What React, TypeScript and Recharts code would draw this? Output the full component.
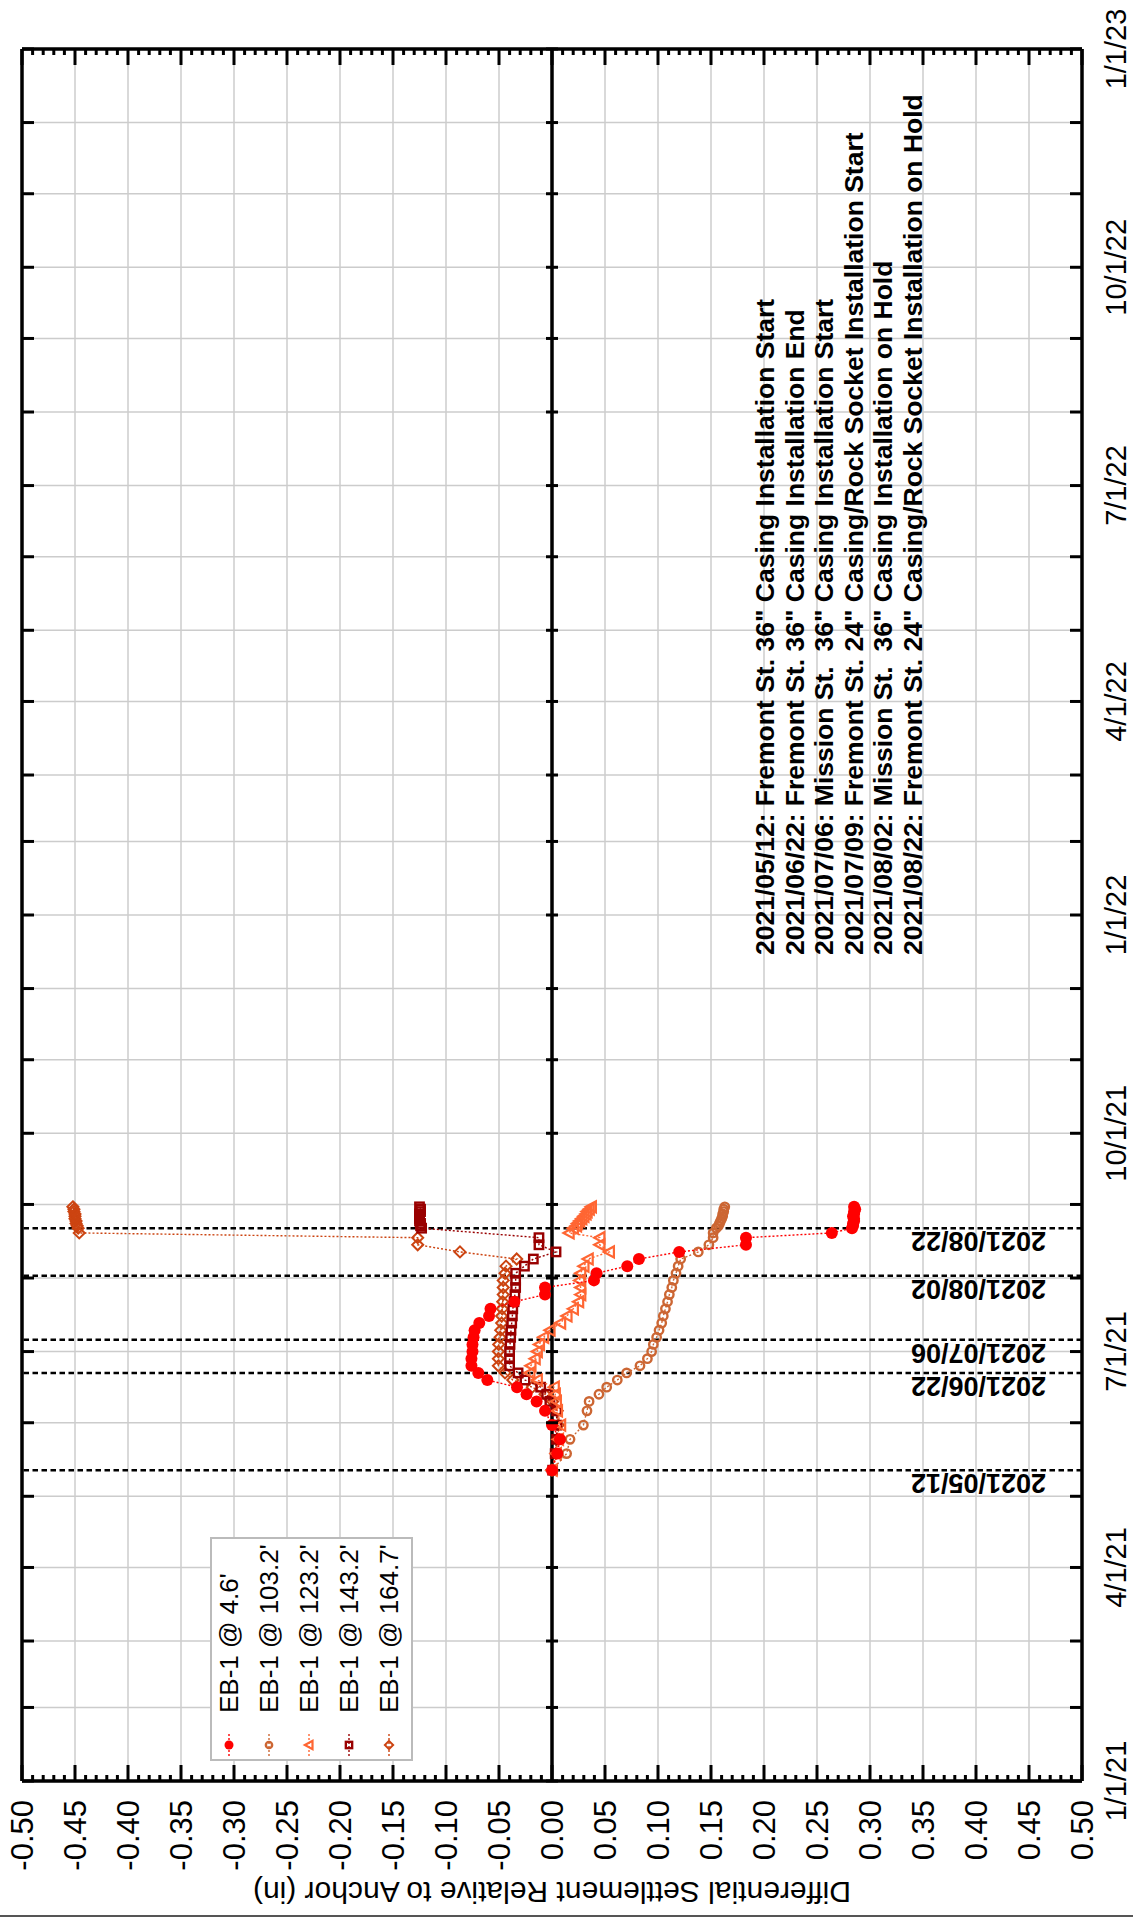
import React from "react";
import { ScatterChart, Scatter, XAxis, YAxis, CartesianGrid, ReferenceLine } from "recharts";

// survey dates shared by all five extensometer anchors
const surveyDates = [
  "2021-05-12", "2021-05-19", "2021-05-25", "2021-05-31", "2021-06-06",
  "2021-06-10", "2021-06-13", "2021-06-16", "2021-06-19", "2021-06-22",
  "2021-06-25", "2021-06-28", "2021-07-01", "2021-07-04", "2021-07-07",
  "2021-07-10", "2021-07-13", "2021-07-16", "2021-07-19", "2021-07-22",
  "2021-07-25", "2021-07-28", "2021-07-31", "2021-08-03", "2021-08-06",
  "2021-08-09", "2021-08-12", "2021-08-15", "2021-08-18", "2021-08-20",
  "2021-08-22", "2021-08-23", "2021-08-24", "2021-08-25", "2021-08-26",
  "2021-08-27", "2021-08-28", "2021-08-29", "2021-08-30", "2021-08-31",
];

const eb1At4_6 = [
  0.0, 0.005, 0.0075, 0.0, -0.0066, -0.0145, -0.024, -0.033, -0.061, -0.0695,
  -0.076, -0.076, -0.075, -0.075, -0.074, -0.073, -0.0686, -0.0594, -0.058, -0.0355,
  -0.0066, -0.0066, 0.0396, 0.042, 0.071, 0.082, 0.12, 0.183, 0.183, 0.264,
  0.283, 0.284, 0.284, 0.285, 0.285, 0.284, 0.285, 0.285, 0.286, 0.285,
];

const eb1At103_2 = [
  0.0, 0.0138, 0.017, 0.0296, 0.033, 0.035, 0.0443, 0.0516, 0.0616, 0.0704,
  0.083, 0.09, 0.094, 0.0956, 0.0987, 0.101, 0.1035, 0.105, 0.107, 0.109,
  0.1107, 0.113, 0.1145, 0.117, 0.119, 0.1214, 0.138, 0.148, 0.152, 0.152,
  0.155, 0.157, 0.158, 0.159, 0.16, 0.161, 0.161, 0.162, 0.162, 0.163,
];

const eb1At123_2 = [
  0.0, 0.004, 0.006, 0.008, 0.005, 0.004, 0.003, 0.002, -0.014, -0.021,
  -0.02, -0.016, -0.014, -0.012, -0.008, -0.002, 0.008, 0.014, 0.02, 0.025,
  0.027, 0.027, 0.026, 0.027, 0.03, 0.034, 0.054, 0.045, 0.045, 0.016,
  0.02, 0.023, 0.024, 0.026, 0.028, 0.03, 0.032, 0.033, 0.035, 0.037,
];

const eb1At143_2 = [
  0.0006, 0.003, 0.0044, 0.0044, 0.0044, -0.002, -0.005, -0.0107, -0.0255, -0.032,
  -0.04, -0.04, -0.04, -0.0396, -0.039, -0.0387, -0.038, -0.0374, -0.037, -0.0358,
  -0.035, -0.0343, -0.0343, -0.0343, -0.026, -0.0176, 0.0038, -0.0123, -0.0123, null,
  -0.123, -0.124, -0.124, -0.125, -0.125, -0.125, -0.125, -0.124, -0.124, -0.125,
];

const eb1At164_7 = [
  0.0, 0.0035, 0.005, 0.006, 0.005, 0.0006, -0.0066, -0.0186, -0.037, -0.0443,
  -0.0506, -0.0506, -0.0506, -0.0503, -0.049, -0.0484, -0.0475, -0.0475, -0.0469, -0.0465,
  -0.046, -0.046, -0.046, -0.0443, -0.0434, -0.0333, -0.0868, -0.1267, -0.1267, -0.446,
  -0.447, -0.448, -0.449, -0.449, -0.45, -0.45, -0.45, -0.451, -0.451, -0.452,
];

const settlementTicks = [
  -0.5, -0.45, -0.4, -0.35, -0.3, -0.25, -0.2, -0.15, -0.1, -0.05, 0,
  0.05, 0.1, 0.15, 0.2, 0.25, 0.3, 0.35, 0.4, 0.45, 0.5,
];
const dateTickLabels = ["1/1/21", "4/1/21", "7/1/21", "10/1/21", "1/1/22", "4/1/22", "7/1/22", "10/1/22", "1/1/23"];

const eventDates = ["2021-05-12", "2021-06-22", "2021-07-06", "2021-08-02", "2021-08-22"];
const eventNotes = [
  '2021/05/12: Fremont St. 36" Casing Installation Start',
  '2021/06/22: Fremont St. 36" Casing Installation End',
  '2021/07/06: Mission St.  36" Casing Installation Start',
  '2021/07/09: Fremont St. 24" Casing/Rock Socket Installation Start',
  '2021/08/02: Mission St.  36" Casing Installation on Hold',
  '2021/08/22: Fremont St. 24" Casing/Rock Socket Installation on Hold',
];

const FONT = "'Liberation Sans', Arial, sans-serif";
const W = 1133;
const H = 1923;
const PLOT_LEFT = 22;
const PLOT_TOP = 49;
const PLOT_RIGHT = 1082;
const PLOT_BOTTOM = 1781;
const PLOT_W = PLOT_RIGHT - PLOT_LEFT;
const PLOT_H = PLOT_BOTTOM - PLOT_TOP;
const X_AXIS_H = 100;
const Y_AXIS_W = 40;

const ORIGIN = Date.UTC(2021, 0, 1);
const toDay = (iso: string) => (Date.parse(iso) - ORIGIN) / 86400000;

const monthTicks = Array.from({ length: 25 }, (_, k) => (Date.UTC(2021, k, 1) - ORIGIN) / 86400000);
const minorSettlementTicks = Array.from({ length: 101 }, (_, i) => (i - 50) / 100);

type Kind = "dot" | "circle" | "triangle" | "square" | "diamond";

const series: { name: string; values: (number | null)[]; color: string; kind: Kind }[] = [
  { name: "EB-1 @ 4.6'", values: eb1At4_6, color: "#ff0000", kind: "dot" },
  { name: "EB-1 @ 103.2'", values: eb1At103_2, color: "#cc6633", kind: "circle" },
  { name: "EB-1 @ 123.2'", values: eb1At123_2, color: "#ff6633", kind: "triangle" },
  { name: "EB-1 @ 143.2'", values: eb1At143_2, color: "#990000", kind: "square" },
  { name: "EB-1 @ 164.7'", values: eb1At164_7, color: "#cc4411", kind: "diamond" },
];

const Marker = ({ kind, cx, cy, color, k = 1 }: { kind: Kind; cx: number; cy: number; color: string; k?: number }) => {
  if (kind === "dot") return <circle cx={cx} cy={cy} r={6 * k} fill={color} />;
  if (kind === "circle") return <circle cx={cx} cy={cy} r={4.2 * k} fill="none" stroke={color} strokeWidth={2.4} />;
  if (kind === "square") {
    const h = 4.2 * k;
    return <rect x={cx - h} y={cy - h} width={2 * h} height={2 * h} fill="none" stroke={color} strokeWidth={2.4} />;
  }
  if (kind === "triangle") {
    const r = 5.5 * k;
    return (
      <polygon
        points={`${cx - r},${cy} ${cx + r * 0.85},${cy - r} ${cx + r * 0.85},${cy + r}`}
        fill="none"
        stroke={color}
        strokeWidth={2.2}
      />
    );
  }
  const r = 5.5 * k;
  return (
    <polygon
      points={`${cx},${cy - r} ${cx + r},${cy} ${cx},${cy + r} ${cx - r},${cy}`}
      fill="none"
      stroke={color}
      strokeWidth={2}
    />
  );
};

const XTick = (props: any) => {
  const { x, y, payload } = props;
  const v = payload.value as number;
  const major = Math.round(v * 100) % 5 === 0;
  const len = major ? 16 : 6;
  const top = y - PLOT_H;
  return (
    <g>
      <line x1={x} y1={y} x2={x} y2={y - len} stroke="#000" strokeWidth={3} />
      <line x1={x} y1={top} x2={x} y2={top + len} stroke="#000" strokeWidth={3} />
      {major && settlementTicks.some((t) => Math.abs(t - v) < 1e-9) && (
        <text
          transform={`translate(${x + 11},${y + 19}) rotate(-90)`}
          textAnchor="end"
          fontSize={31}
          fontFamily={FONT}
          fill="#000"
        >
          {v.toFixed(2)}
        </text>
      )}
    </g>
  );
};

const YTick = (props: any) => {
  const { x, y, payload } = props;
  const k = monthTicks.indexOf(payload.value);
  const left = x - PLOT_W;
  const mid = x - PLOT_W / 2;
  const label = k % 3 === 0 ? dateTickLabels[k / 3] : null;
  return (
    <g>
      <line x1={left} y1={y} x2={left + 12} y2={y} stroke="#000" strokeWidth={3} />
      <line x1={x - 12} y1={y} x2={x} y2={y} stroke="#000" strokeWidth={3} />
      <line x1={mid - 6} y1={y} x2={mid + 6} y2={y} stroke="#000" strokeWidth={3} />
      {label && (
        <text
          transform={`translate(${x + 44},${y}) rotate(-90)`}
          textAnchor="middle"
          fontSize={29}
          fontFamily={FONT}
          fill="#000"
        >
          {label}
        </text>
      )}
    </g>
  );
};

const EventLabel = (props: any) => {
  const vb = props.viewBox || {};
  return (
    <text
      transform={`translate(${vb.x + vb.width - 36},${vb.y + 4}) rotate(180)`}
      textAnchor="start"
      fontSize={27}
      fontWeight="bold"
      fontFamily={FONT}
      fill="#000"
    >
      {props.text}
    </text>
  );
};

const Overlay = () => (
  <svg width={W} height={H} style={{ position: "absolute", left: 0, top: 0, pointerEvents: "none" }}>
    {/* legend */}
    <rect x={211} y={1538} width={201} height={222} fill="#fff" stroke="#bbbbbb" strokeWidth={2} />
    {series.map((s, i) => {
      const cx = 229 + i * 40;
      return (
        <g key={s.name}>
          <line x1={cx} y1={1734} x2={cx} y2={1756} stroke={s.color} strokeWidth={1.4} strokeDasharray="2 2" />
          <Marker kind={s.kind} cx={cx} cy={1745} color={s.color} k={0.75} />
          <text
            transform={`translate(${cx + 9},${1713}) rotate(-90)`}
            fontSize={26}
            fontFamily={FONT}
            fill="#000"
          >
            {s.name}
          </text>
        </g>
      );
    })}
    {/* event notes */}
    {eventNotes.map((t, i) => (
      <text
        key={t}
        transform={`translate(${774 + i * 29.6},955) rotate(-90)`}
        fontSize={26.5}
        fontWeight="bold"
        fontFamily={FONT}
        fill="#000"
        style={{ whiteSpace: "pre" }}
      >
        {t}
      </text>
    ))}
    {/* axis title */}
    <text
      transform={`translate(${(PLOT_LEFT + PLOT_RIGHT) / 2},1882) rotate(180)`}
      textAnchor="middle"
      fontSize={30}
      fontFamily={FONT}
      fill="#000"
    >
      Differential Settlement Relative to Anchor (in)
    </text>
    <line x1={0} y1={1916} x2={W} y2={1916} stroke="#555" strokeWidth={2} />
  </svg>
);

export default function App() {
  return (
    <div style={{ position: "absolute", left: 0, top: 0, width: W, height: H, background: "#fff" }}>
      <ScatterChart
        width={W}
        height={H}
        margin={{
          top: PLOT_TOP,
          left: PLOT_LEFT,
          right: W - PLOT_RIGHT - Y_AXIS_W,
          bottom: H - PLOT_BOTTOM - X_AXIS_H,
        }}
      >
        <CartesianGrid
          stroke="#cccccc"
          strokeWidth={1.5}
          verticalValues={settlementTicks}
          horizontalValues={monthTicks}
        />
        <XAxis
          type="number"
          dataKey="s"
          domain={[-0.5, 0.5]}
          ticks={minorSettlementTicks}
          interval={0}
          height={X_AXIS_H}
          axisLine={false}
          tickLine={false}
          tickSize={0}
          tickMargin={0}
          tick={<XTick />}
          allowDataOverflow
        />
        <YAxis
          type="number"
          dataKey="d"
          orientation="right"
          domain={[0, 730]}
          ticks={monthTicks}
          interval={0}
          width={Y_AXIS_W}
          axisLine={false}
          tickLine={false}
          tickSize={0}
          tickMargin={0}
          tick={<YTick />}
          allowDataOverflow
        />
        <ReferenceLine x={0} stroke="#000" strokeWidth={3.5} />
        {eventDates.map((d) => (
          <ReferenceLine
            key={d}
            y={toDay(d)}
            stroke="#000"
            strokeWidth={2.5}
            strokeDasharray="5.5 3.5"
            label={<EventLabel text={d.replace(/-/g, "/")} />}
          />
        ))}
        {[...series].reverse().map((s) => (
          <Scatter
            key={s.name}
            name={s.name}
            data={surveyDates
              .map((date, i) => ({ d: toDay(date), s: s.values[i] }))
              .filter((p) => p.s !== null)}
            fill={s.color}
            line={{ stroke: s.color, strokeWidth: 1.4, strokeDasharray: "2 2" }}
            lineJointType="linear"
            shape={(p: any) => <Marker kind={s.kind} cx={p.cx} cy={p.cy} color={s.color} />}
            isAnimationActive={false}
          />
        ))}
        <ReferenceLine x={-0.5} stroke="#000" strokeWidth={3.5} />
        <ReferenceLine x={0.5} stroke="#000" strokeWidth={3.5} />
        <ReferenceLine y={0} stroke="#000" strokeWidth={3.5} />
        <ReferenceLine y={730} stroke="#000" strokeWidth={3.5} />
      </ScatterChart>
      <Overlay />
    </div>
  );
}
